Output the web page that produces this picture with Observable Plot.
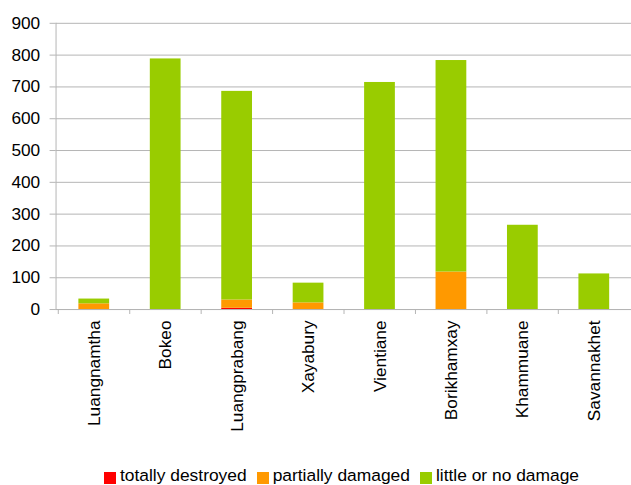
<!DOCTYPE html>
<html>
<head>
<meta charset="utf-8">
<script src="https://cdn.jsdelivr.net/npm/d3@7"></script>
<script src="https://cdn.jsdelivr.net/npm/@observablehq/plot@0.6"></script>
<style>
  html, body { margin: 0; padding: 0; overflow: hidden; background: #fff; }
  body { width: 631px; height: 485px; position: relative; font-family: "Liberation Sans", Arial, sans-serif; }
  #chart svg { display: block; }
  #legend { position: absolute; left: 104px; top: 465px; display: flex; align-items: center; font-size: 17.4px; line-height: 20px; color: #000; white-space: nowrap; }
  #legend .item { display: flex; align-items: center; margin-right: 10px; }
  #legend .sw { width: 12px; height: 12px; margin-right: 4px; position: relative; top: 3px; }
</style>
</head>
<body>
<div id="chart"></div>
<div id="legend"></div>
<script>
// Provinces on the x axis
const provinces = ["Luangnamtha", "Bokeo", "Luangprabang", "Xayabury", "Vientiane", "Borikhamxay", "Khammuane", "Savannakhet"];

// Damage levels, bottom to top of each stack
const levels = ["totally destroyed", "partially damaged", "little or no damage"];
const levelColors = ["#ff0000", "#ff9900", "#99cc00"];

// Counts per province for each damage level
const totallyDestroyed = [0, 0, 4, 0, 0, 0, 0, 0];
const partiallyDamaged = [18, 0, 26, 21, 0, 118, 0, 0];
const littleOrNoDamage = [15, 788, 656, 62, 714, 665, 265, 112];

const yTicks = [0, 100, 200, 300, 400, 500, 600, 700, 800, 900];

const series = [totallyDestroyed, partiallyDamaged, littleOrNoDamage];
const rows = [];
provinces.forEach((p, i) => {
  levels.forEach((lv, j) => rows.push({province: p, level: lv, value: series[j][i]}));
});

const width = 636, marginLeft = 56, marginRight = 0;
const step = (width - marginLeft - marginRight) / provinces.length;
const font = "17.4px 'Liberation Sans', Arial, sans-serif";

const chart = Plot.plot({
  width,
  height: 455,
  marginLeft,
  marginRight,
  marginTop: 23,
  marginBottom: 143.5,
  style: {font, color: "#000", background: "#fff"},
  x: {domain: provinces, paddingInner: 0.57, paddingOuter: 0.285, label: null},
  y: {domain: [0, 900], label: null},
  color: {domain: levels, range: levelColors},
  marks: [
    Plot.gridY(yTicks, {stroke: "#b4b4b4", strokeOpacity: 1, strokeWidth: 1}),
    Plot.barY(rows, {x: "province", y: "value", fill: "level", order: levels}),
    Plot.ruleY([0], {stroke: "#b4b4b4"}),
    Plot.frame({anchor: "left", stroke: "#b4b4b4"}),
    Plot.axisY(yTicks, {tickSize: 6, tickPadding: 10, stroke: "#b4b4b4", fontSize: 17.4, fill: "#000", label: null}),
    // band boundary ticks below the baseline
    Plot.axisX({tickSize: 5, tickFormat: () => "", dx: -step / 2, stroke: "#b4b4b4", label: null}),
    Plot.axisX({tickSize: 0, tickPadding: 11, tickRotate: -90, fontSize: 17.4, fill: "#000", label: null})
  ]
});
document.getElementById("chart").append(chart);

// Legend below the chart
const legend = d3.select("#legend");
levels.forEach((lv, j) => {
  const item = legend.append("div").attr("class", "item");
  item.append("div").attr("class", "sw").style("background", levelColors[j]);
  item.append("span").text(lv);
});
</script>
</body>
</html>
